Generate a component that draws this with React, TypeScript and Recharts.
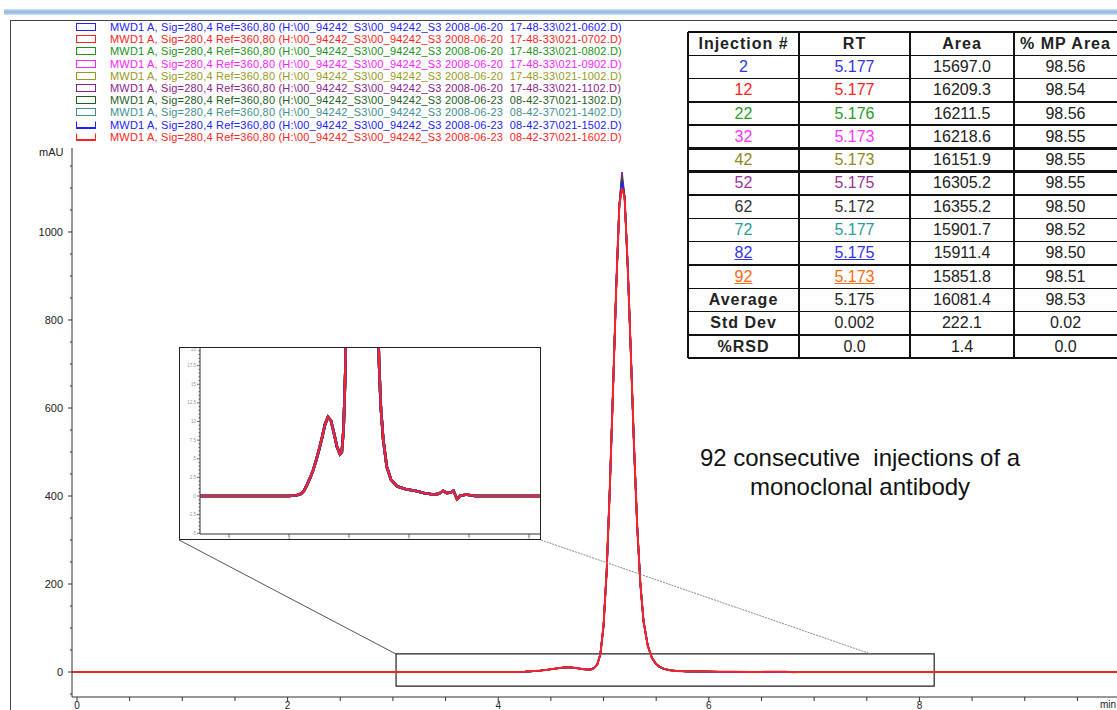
import React from 'react';
import { LineChart, Line, XAxis, YAxis, ReferenceArea } from 'recharts';

// legend / traces
const traceFiles = [
  '2008-06-20  17-48-33\\021-0602.D',
  '2008-06-20  17-48-33\\021-0702.D',
  '2008-06-20  17-48-33\\021-0802.D',
  '2008-06-20  17-48-33\\021-0902.D',
  '2008-06-20  17-48-33\\021-1002.D',
  '2008-06-20  17-48-33\\021-1102.D',
  '2008-06-23  08-42-37\\021-1302.D',
  '2008-06-23  08-42-37\\021-1402.D',
  '2008-06-23  08-42-37\\021-1502.D',
  '2008-06-23  08-42-37\\021-1602.D',
];
const traceColors = ['#2222ff', '#ff2222', '#229122', '#ff22ff', '#999922', '#8c228c', '#1f5f1f', '#3f9090', '#2222ff', '#ff2222'];

// chromatogram (min, mAU)
const times = [-0.05, 0.5, 1, 2, 3, 3.5, 4, 4.13, 4.2, 4.25, 4.3, 4.35, 4.4, 4.45, 4.5, 4.55, 4.6, 4.65, 4.7, 4.75, 4.8, 4.85, 4.88, 4.91, 4.94, 4.97, 5.0, 5.03, 5.06, 5.09, 5.12, 5.15, 5.175, 5.2, 5.23, 5.26, 5.29, 5.32, 5.35, 5.38, 5.42, 5.46, 5.5, 5.53, 5.57, 5.63, 5.7, 5.8, 5.95, 6.1, 6.25, 6.4, 6.5, 6.57, 6.63, 6.7, 6.74, 6.8, 6.85, 6.95, 7.1, 8, 9, 9.9];
const signal = [0, 0, 0, 0, 0, 0, 0, 0.1, 0.3, 0.7, 1.5, 2.4, 3.4, 4.7, 6.2, 7.8, 9.6, 10.6, 10.1, 8.4, 6.6, 5.6, 5.9, 9, 17, 40, 105, 230, 420, 640, 870, 1060, 1120, 1080, 920, 720, 510, 330, 200, 115, 60, 32, 18, 12, 7.6, 3.9, 2.2, 1.3, 0.9, 0.7, 0.4, 0.2, 0.3, 0.7, 0.4, 0.5, 0.7, -0.4, 0, 0.2, 0, 0, 0, 0];
const apexTime = 5.175;
const apexHeights = [1112, 1098, 1120, 1126, 1118, 1136, 1124, 1108, 1115, 1100];

// axes
const xMajorTicks = [0, 2, 4, 6, 8];
const xMinorTicks = [0.5, 1, 1.5, 2.5, 3, 3.5, 4.5, 5, 5.5, 6.5, 7, 7.5, 8.5, 9, 9.5];
const yMajorTicks = [0, 200, 400, 600, 800, 1000];
const yMinorTicks = [-50, 50, 100, 150, 250, 300, 350, 450, 500, 550, 650, 700, 750, 850, 900, 950, 1050, 1100, 1150];
const insetXTicks = [3, 4, 5, 6, 7, 8];
const insetYMajor = [-5, -2.5, 0, 2.5, 5, 7.5, 10, 12.5, 15, 17.5, 20];
const insetYMinor = [-4.5, -4, -3.5, -3, -2, -1.5, -1, -0.5, 0.5, 1, 1.5, 2, 3, 3.5, 4, 4.5, 5.5, 6, 6.5, 7, 8, 8.5, 9, 9.5, 10.5, 11, 11.5, 12, 13, 13.5, 14, 14.5, 15.5, 16, 16.5, 17, 18, 18.5, 19, 19.5];

// table
const injections = ['2', '12', '22', '32', '42', '52', '62', '72', '82', '92'];
const rtValues = ['5.177', '5.177', '5.176', '5.173', '5.173', '5.175', '5.172', '5.177', '5.175', '5.173'];
const areaValues = ['15697.0', '16209.3', '16211.5', '16218.6', '16151.9', '16305.2', '16355.2', '15901.7', '15911.4', '15851.8'];
const mpAreaValues = ['98.56', '98.54', '98.56', '98.55', '98.55', '98.55', '98.50', '98.52', '98.50', '98.51'];
const injectionColors = ['#3333ee', '#ff2222', '#2a9a2a', '#ff33ff', '#8c8c1c', '#993399', '#333333', '#2a9a9a', '#3333ee', '#ff6a13'];
const underlined = ['82', '92'];
const summaryLabels = ['Average', 'Std Dev', '%RSD'];
const summaryRt = ['5.175', '0.002', '0.0'];
const summaryArea = ['16081.4', '222.1', '1.4'];
const summaryMp = ['98.53', '0.02', '0.0'];
const headers = ['Injection #', 'RT', 'Area', '% MP Area'];

const rows = times.map((t, j) => {
  const row: Record<string, number> = { t };
  traceColors.forEach((_, i) => {
    row['s' + i] = t === apexTime ? apexHeights[i] : signal[j];
  });
  return row;
});

const FONT = '"Liberation Sans", Arial, sans-serif';

function YTick({ x, y, payload }: any) {
  const major = yMajorTicks.includes(payload.value);
  return (
    <g>
      <line x1={x - (major ? 4 : 2)} x2={x} y1={y} y2={y} stroke="#333" />
      {major && (
        <text x={x - 9} y={y + 4} textAnchor="end" fontSize={11} fill="#222" fontFamily={FONT}>
          {payload.value}
        </text>
      )}
    </g>
  );
}

function XTick({ x, y, payload }: any) {
  const major = xMajorTicks.includes(payload.value);
  return (
    <g>
      <line x1={x} x2={x} y1={y} y2={y + (major ? 5 : 4)} stroke="#333" />
      {major && (
        <text x={x} y={y + 12} textAnchor="middle" fontSize={10} fill="#222" fontFamily={FONT}>
          {payload.value}
        </text>
      )}
    </g>
  );
}

function InsetYTick({ x, y, payload }: any) {
  const major = insetYMajor.includes(payload.value);
  const top = payload.value === insetYMajor[insetYMajor.length - 1];
  return (
    <g>
      <line x1={x - (major ? 3 : 1.5)} x2={x} y1={y} y2={y} stroke="#444" strokeWidth={0.8} />
      {major && (
        <text x={x - 4} y={y + (top ? 4 : 1.5)} textAnchor="end" fontSize={4.5} fill="#999" fontFamily={FONT}>
          {payload.value}
        </text>
      )}
    </g>
  );
}

function InsetXTick({ x, y, payload }: any) {
  return (
    <g>
      <line x1={x} x2={x} y1={y} y2={y + 3} stroke="#444" strokeWidth={0.8} />
      <text x={x} y={y + 6} textAnchor="middle" fontSize={4.5} fill="#999" fontFamily={FONT}>
        {payload.value}
      </text>
    </g>
  );
}

function Legend() {
  return (
    <>
      {traceFiles.map((f, i) => {
        const top = 27 + i * 12.2;
        const bracket = i >= 8;
        return (
          <React.Fragment key={i}>
            <div
              style={{
                position: 'absolute', left: 76, top: top - 4, width: 20, height: 8, boxSizing: 'border-box',
                border: `1.5px solid ${traceColors[i]}`,
                borderTopColor: bracket ? 'transparent' : traceColors[i],
                borderBottomWidth: bracket ? 2.5 : 1.5,
              }}
            />
            <div
              style={{
                position: 'absolute', left: 110, top: top - 7, height: 14, lineHeight: '14px',
                fontSize: 11, color: traceColors[i], whiteSpace: 'pre', letterSpacing: 0.2,
              }}
            >
              {`MWD1 A, Sig=280,4 Ref=360,80 (H:\\00_94242_S3\\00_94242_S3 ${f})`}
            </div>
          </React.Fragment>
        );
      })}
    </>
  );
}

function ResultsTable() {
  const colX = [688, 799, 910, 1014, 1117];
  const rowH = 23.3;
  const top0 = 32;
  const bodyRows: { cells: string[]; color: string; under: boolean }[] = [];
  bodyRows.push({ cells: headers, color: '#111', under: false });
  injections.forEach((inj, i) =>
    bodyRows.push({
      cells: [inj, rtValues[i], areaValues[i], mpAreaValues[i]],
      color: injectionColors[i],
      under: underlined.includes(inj),
    })
  );
  summaryLabels.forEach((l, i) =>
    bodyRows.push({ cells: [l, summaryRt[i], summaryArea[i], summaryMp[i]], color: '#222', under: false })
  );
  const hLines = Array.from({ length: bodyRows.length + 1 }, (_, k) => k);
  return (
    <>
      <div style={{ position: 'absolute', left: 688, top: 32, width: 429, height: rowH * bodyRows.length, background: '#fff' }} />
      {bodyRows.map((r, ri) =>
        r.cells.map((c, ci) => {
          const isLabel = ci === 0 && (ri === 0 || ri > injections.length);
          const bold = ri === 0 || isLabel;
          const colored = ci < 2 && ri > 0 && ri <= injections.length;
          return (
            <div
              key={ri + '-' + ci}
              style={{
                position: 'absolute', left: colX[ci], width: colX[ci + 1] - colX[ci], top: top0 + ri * rowH, height: rowH,
                display: 'flex', alignItems: 'center', justifyContent: 'center',
                fontSize: 16, fontWeight: bold ? 700 : 400,
                letterSpacing: bold ? 1 : 0,
                color: colored ? r.color : '#222',
                textDecoration: colored && r.under ? 'underline' : 'none',
                whiteSpace: 'pre',
              }}
            >
              {c}
            </div>
          );
        })
      )}
      {hLines.map((k) => {
        const w = k === 5 || k === 6 ? 3 : k === 0 || k === bodyRows.length ? 2.5 : 1.6;
        return (
          <div key={'h' + k} style={{ position: 'absolute', left: 688, width: 429, top: top0 + k * rowH - w / 2, height: w, background: '#111' }} />
        );
      })}
      {colX.slice(0, 4).map((x, i) => (
        <div key={'v' + i} style={{ position: 'absolute', left: x - 1, width: 2, top: top0, height: rowH * bodyRows.length, background: '#111' }} />
      ))}
    </>
  );
}

export default function App() {
  return (
    <div style={{ position: 'absolute', left: 0, top: 0, width: 1117, height: 710, overflow: 'hidden', background: '#fff', fontFamily: FONT }}>
      {/* window chrome */}
      <div style={{ position: 'absolute', left: 4, top: 9, width: 1113, height: 6, background: 'linear-gradient(#cfe0f2, #8fb6df, #cfe0f2)' }} />
      <div style={{ position: 'absolute', left: 10, top: 20, width: 1107, height: 1, background: '#444' }} />
      <div style={{ position: 'absolute', left: 10, top: 20, width: 1, height: 690, background: '#444' }} />

      <div style={{ position: 'absolute', left: 0, top: 0 }}>
        <LineChart width={1117} height={710} data={rows} margin={{ top: 148, right: 0, bottom: 0, left: 0 }}>
          <XAxis
            dataKey="t" type="number" domain={[-0.0475, 9.876]} allowDataOverflow
            ticks={[...xMajorTicks, ...xMinorTicks]} interval={0}
            tick={(p: any) => <XTick {...p} />} tickLine={false} tickSize={0} tickMargin={0}
            height={13} axisLine={{ stroke: '#333' }}
          />
          <YAxis
            type="number" domain={[-56.8, 1190.9]} allowDataOverflow
            ticks={[...yMajorTicks, ...yMinorTicks]} interval={0}
            tick={(p: any) => <YTick {...p} />} tickLine={false} tickSize={0} tickMargin={0}
            width={72} axisLine={{ stroke: '#333' }}
          />
          {traceColors.map((c, i) => (
            <Line key={i} dataKey={'s' + i} type="linear" stroke={c} strokeWidth={i === traceColors.length - 1 ? 2 : 1.6} dot={false} isAnimationActive={false} />
          ))}
          <ReferenceArea x1={3.03} x2={8.14} y1={-32} y2={41} fill="none" stroke="#222" strokeWidth={1.2} ifOverflow="visible" />
        </LineChart>
      </div>

      <div style={{ position: 'absolute', left: 39, top: 146, fontSize: 11, color: '#222' }}>mAU</div>
      <div style={{ position: 'absolute', left: 1100, top: 699, fontSize: 10, color: '#222' }}>min</div>

      <svg width={1117} height={710} style={{ position: 'absolute', left: 0, top: 0, pointerEvents: 'none' }}>
        <line x1={179} y1={540} x2={396} y2={654} stroke="#555" strokeWidth={1} />
        <line x1={541} y1={540} x2={871} y2={654} stroke="#888" strokeWidth={1} strokeDasharray="2 1" />
      </svg>

      {/* inset zoom */}
      <div style={{ position: 'absolute', left: 179, top: 347, width: 362, height: 193, background: '#fff' }}>
        <LineChart width={362} height={193} data={rows} margin={{ top: 0, right: 1, bottom: 0, left: 0 }}>
          <XAxis
            dataKey="t" type="number" domain={[2.517, 8.183]} allowDataOverflow
            ticks={insetXTicks} interval={0}
            tick={(p: any) => <InsetXTick {...p} />} tickLine={false} tickSize={0} tickMargin={0}
            height={6} axisLine={{ stroke: '#333' }}
          />
          <YAxis
            type="number" domain={[-5.1, 20]} allowDataOverflow
            ticks={[...insetYMajor, ...insetYMinor]} interval={0}
            tick={(p: any) => <InsetYTick {...p} />} tickLine={false} tickSize={0} tickMargin={0}
            width={21} axisLine={{ stroke: '#333' }}
          />
          {traceColors.map((c, i) => (
            <Line key={i} dataKey={'s' + i} type="linear" stroke={c} strokeWidth={i === traceColors.length - 1 ? 2.2 : 2.6} dot={false} isAnimationActive={false} />
          ))}
        </LineChart>
      </div>
      <div style={{ position: 'absolute', left: 179, top: 347, width: 362, height: 193, boxSizing: 'border-box', border: '1px solid #222', pointerEvents: 'none' }} />

      <Legend />
      <ResultsTable />

      <div
        style={{
          position: 'absolute', left: 680, top: 443, width: 360, textAlign: 'center',
          fontSize: 24, lineHeight: '29px', color: '#111', whiteSpace: 'pre',
        }}
      >
        {'92 consecutive  injections of a\nmonoclonal antibody'}
      </div>
    </div>
  );
}
